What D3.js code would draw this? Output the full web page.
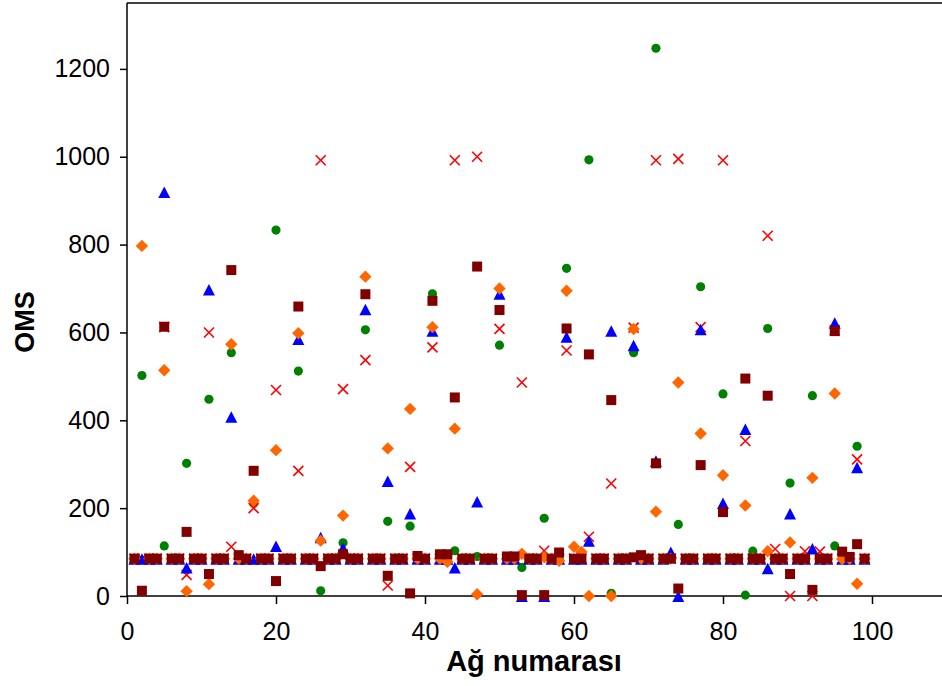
<!DOCTYPE html>
<html><head><meta charset="utf-8">
<script src="https://cdn.jsdelivr.net/npm/d3@7"></script>
<style>body{margin:0;background:#fff}svg{display:block}</style>
</head><body>
<svg id="c" width="942" height="686"></svg>
<script>
// Network numbers (x)
const networks = [1,2,3,4,5,6,7,8,9,10,11,12,13,14,15,16,17,18,19,20,21,22,23,24,25,26,27,28,29,30,
31,32,33,34,35,36,37,38,39,40,41,42,43,44,45,46,47,48,49,50,51,52,53,54,55,56,57,58,59,60,
61,62,63,64,65,66,67,68,69,70,71,72,73,74,75,76,77,78,79,80,81,82,83,84,85,86,87,88,89,90,
91,92,93,94,95,96,97,98,99];
// green circles
const seriesGreen = [85,502,85,85,114,85,85,302,85,85, 448,85,85,554,85,85,211,85,85,833,
85,85,512,85,85,12,85,85,121,85, 85,606,85,85,170,85,85,159,85,85,
688,85,85,103,85,85,90,85,85,571, 85,85,65,85,85,177,85,85,746,85,
85,993,85,85,6,85,85,554,85,85, 1247,85,85,163,85,85,704,85,85,460,
85,85,2,102,85,609,85,85,257,85, 85,456,85,85,114,85,85,341,85];
// blue triangles
const seriesBlue = [85,85,85,85,920,85,85,65,85,85, 698,85,85,408,85,85,85,85,85,114,
85,85,585,85,85,134,85,85,110,85, 85,653,85,85,262,85,85,188,85,85,
604,85,85,65,85,85,215,85,85,688, 85,85,0,85,85,0,85,85,590,85,
85,126,85,85,604,85,85,571,85,85, 308,85,100,0,85,85,607,85,85,212,
85,85,380,85,85,63,85,85,188,85, 85,108,85,85,622,85,85,293,85];
// orange diamonds
const seriesOrange = [85,797,85,85,514,85,85,11,85,85, 27,85,85,573,85,85,217,85,85,332,
85,85,598,85,85,126,85,85,183,85, 85,727,85,85,336,85,85,426,85,85,
612,85,78,381,85,85,4,85,85,700, 85,85,96,85,85,88,85,80,695,112,
100,0,85,85,0,85,85,608,85,85, 192,85,85,486,85,85,370,85,85,275,
85,85,206,85,85,102,85,85,122,85, 85,269,85,85,461,84,85,28,85];
// red crosses
const seriesRed = [85,85,85,85,612,85,85,48,85,85, 600,85,85,112,85,85,200,85,85,469,
85,85,285,85,85,992,85,85,471,85, 85,537,85,85,24,85,85,294,85,85,
566,85,85,992,85,85,1000,85,85,608, 85,85,486,85,85,103,85,85,559,85,
85,135,85,85,256,85,85,611,85,85, 992,85,85,995,85,85,612,85,85,992,
85,85,353,85,85,820,107,85,0,85, 102,0,101,85,605,85,85,311,85];
// dark red squares
const seriesMaroon = [85,12,85,85,613,85,85,146,85,85, 50,85,85,742,93,85,285,85,85,34,
85,85,659,85,85,68,85,85,95,85, 85,687,85,85,46,85,85,6,91,85,
672,95,95,452,85,85,750,85,85,651, 90,90,2,85,85,2,85,99,609,85,
85,550,85,85,446,85,85,88,93,85, 302,85,85,17,85,85,298,85,85,191,
85,85,495,85,85,456,85,85,50,85, 85,14,85,85,603,101,89,118,85];

const xTicks = [0,20,40,60,80,100];
const yTicks = [0,200,400,600,800,1000,1200];

const svg = d3.select("#c");
const x = d3.scaleLinear().domain([0,110]).range([127,946.5]);
const y = d3.scaleLinear().domain([0,1350]).range([596,3]);

// top frame line
svg.append("line").attr("x1",127).attr("x2",942).attr("y1",y(1350)).attr("y2",y(1350))
  .attr("stroke","#000").attr("stroke-width",1.5);

const font = "'Liberation Sans', Arial, sans-serif";
const yAxis = svg.append("g").attr("transform","translate(127,0)")
  .call(d3.axisLeft(y).tickValues(yTicks).tickFormat(d3.format("d")).tickSize(7).tickPadding(10).tickSizeOuter(0));
const xAxis = svg.append("g").attr("transform","translate(0,596)")
  .call(d3.axisBottom(x).tickValues(xTicks).tickFormat(d3.format("d")).tickSize(8).tickPadding(18).tickSizeOuter(0));
[yAxis,xAxis].forEach(g=>{
  g.selectAll("path,line").attr("stroke","#000").attr("stroke-width",1.5);
  g.selectAll("text").attr("font-family",font).attr("font-size",25).attr("fill","#000");
});
yAxis.select(".domain").attr("d",`M0,${y(1350)}V596`);
xAxis.select(".domain").attr("d",`M127,0H942`);

svg.append("text").attr("x",534).attr("y",671).attr("text-anchor","middle")
  .attr("font-family",font).attr("font-weight","bold").attr("font-size",29).text("Ağ numarası");
svg.append("text").attr("transform","translate(34,322) rotate(-90)").attr("text-anchor","middle")
  .attr("font-family",font).attr("font-weight","bold").attr("font-size",27).text("OMS");

// custom symbol types
const triType = {draw(ctx){ctx.moveTo(0,-5.5);ctx.lineTo(6,6);ctx.lineTo(-6,6);ctx.closePath();}};
const diaType = {draw(ctx){ctx.moveTo(0,-6.2);ctx.lineTo(6.2,0);ctx.lineTo(0,6.2);ctx.lineTo(-6.2,0);ctx.closePath();}};
const sqType = {draw(ctx){ctx.rect(-5,-5,10,10);}};
const xType = {draw(ctx){ctx.moveTo(-5,-5);ctx.lineTo(5,5);ctx.moveTo(5,-5);ctx.lineTo(-5,5);}};

const plot = svg.append("g");
function drawSeries(vals, type, size, fill, stroke){
  plot.append("g").selectAll("path").data(networks.map((n,i)=>[n,vals[i]])).join("path")
    .attr("transform",d=>`translate(${x(d[0])},${y(d[1])})`)
    .attr("d",d3.symbol().type(type).size(size)())
    .attr("fill",fill).attr("stroke",stroke).attr("stroke-width",stroke==="none"?0:1.6);
}
drawSeries(seriesGreen, d3.symbolCircle, 66, "#008000", "none");
drawSeries(seriesRed, xType, 64, "none", "#FF0000");
drawSeries(seriesBlue, triType, 64, "#0000FF", "none");
drawSeries(seriesOrange, diaType, 64, "#FF6600", "none");
drawSeries(seriesMaroon, sqType, 64, "#800000", "none");
</script>
</body></html>
